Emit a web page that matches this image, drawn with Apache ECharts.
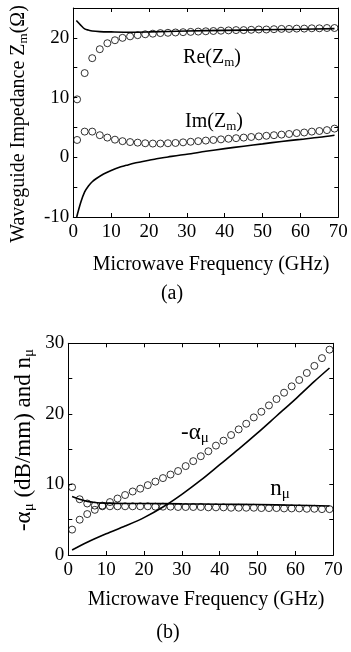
<!DOCTYPE html>
<html>
<head>
<meta charset="utf-8">
<script src="https://cdn.jsdelivr.net/npm/echarts@6/dist/echarts.min.js"></script>
<style>
  html, body { margin: 0; padding: 0; background: #fff; }
  #chart { width: 351px; height: 652px; }
</style>
</head>
<body>
<div id="chart"></div>
<script>
// measured points (circles), every 2 GHz
const circleFreq = [1, 3, 5, 7, 9, 11, 13, 15, 17, 19, 21, 23, 25, 27, 29, 31, 33, 35, 37, 39, 41, 43, 45, 47, 49, 51, 53, 55, 57, 59, 61, 63, 65, 67, 69]

// (a) waveguide impedance
const reMeasured = [9.7, 14.1, 16.6, 18.1, 19.1, 19.6, 20.0, 20.25, 20.45, 20.6, 20.7, 20.8, 20.85, 20.9, 20.95, 21.0, 21.05, 21.1, 21.15, 21.2, 21.25, 21.3, 21.3, 21.35, 21.4, 21.4, 21.45, 21.5, 21.5, 21.55, 21.55, 21.6, 21.6, 21.65, 21.65]
const imMeasured = [2.9, 4.3, 4.3, 3.7, 3.3, 2.95, 2.7, 2.55, 2.45, 2.35, 2.3, 2.3, 2.35, 2.4, 2.5, 2.6, 2.7, 2.8, 2.9, 3.0, 3.1, 3.2, 3.3, 3.4, 3.5, 3.6, 3.7, 3.8, 3.9, 4.05, 4.15, 4.3, 4.4, 4.55, 4.8]
const reLineFreq = [0.8, 2, 3, 4, 5, 7, 10, 15, 20, 30, 40, 50, 60, 69]
const reLineVals = [22.9, 22.1, 21.5, 21.3, 21.15, 21.05, 21.0, 20.95, 21.0, 21.15, 21.25, 21.35, 21.45, 21.55]
const imLineFreq = [0.9, 2, 3, 4, 5, 6, 8, 10, 12, 14, 16, 18, 20, 22, 25, 28, 30, 35, 40, 45, 50, 55, 60, 65, 69]
const imLineVals = [-10, -7.5, -5.8, -4.8, -4.1, -3.6, -2.8, -2.2, -1.7, -1.35, -1.0, -0.75, -0.5, -0.25, 0.05, 0.35, 0.5, 1.0, 1.45, 1.85, 2.25, 2.65, 3.0, 3.35, 3.7]

// (b) attenuation and index
const alphaMeasured = [3.6, 5.0, 5.8, 6.4, 7.0, 7.5, 8.0, 8.5, 9.0, 9.4, 9.9, 10.4, 10.9, 11.4, 11.9, 12.6, 13.3, 14.0, 14.7, 15.5, 16.2, 17.0, 17.8, 18.6, 19.5, 20.3, 21.2, 22.1, 23.0, 23.9, 24.8, 25.8, 26.8, 27.9, 29.1]
const nMeasured = [9.6, 7.9, 7.3, 7.0, 6.9, 6.9, 6.9, 6.9, 6.9, 6.9, 6.9, 6.85, 6.85, 6.85, 6.8, 6.8, 6.8, 6.8, 6.75, 6.75, 6.75, 6.7, 6.7, 6.7, 6.7, 6.65, 6.65, 6.65, 6.6, 6.6, 6.6, 6.55, 6.55, 6.5, 6.5]
const nLineFreq = [1, 3, 5, 7, 10, 15, 20, 30, 40, 50, 60, 69]
const nLineVals = [8.3, 7.9, 7.6, 7.45, 7.35, 7.3, 7.3, 7.25, 7.2, 7.15, 7.05, 6.95]
const alphaLineFreq = [1, 5, 10, 15, 20, 25, 30, 35, 40, 45, 50, 55, 60, 65, 69]
const alphaLineVals = [0.7, 1.8, 3.0, 4.1, 5.3, 6.8, 8.6, 10.6, 12.8, 15.0, 17.3, 19.7, 22.1, 24.6, 26.5]

const xTicks = [0, 10, 20, 30, 40, 50, 60, 70]

const FONT = 'Liberation Serif'
const zip = (xs, ys) => xs.map((x, i) => [x, ys[i]])

function xAxes(grid) {
  const base = {
    gridIndex: grid, type: 'value', min: xTicks[0], max: xTicks[xTicks.length - 1], interval: 10,
    axisLine: { show: true, onZero: false, lineStyle: { color: '#000', width: 1 } },
    axisTick: { inside: true, length: 4, lineStyle: { color: '#000' } },
    splitLine: { show: false },
  }
  return [
    { ...base, position: 'bottom',
      axisLabel: { color: '#000', fontFamily: FONT, fontSize: 19, margin: 6 } },
    { ...base, position: 'top', axisLabel: { show: false } },
  ]
}

function yAxes(grid, min, max) {
  const base = {
    gridIndex: grid, type: 'value', min, max, interval: 5,
    axisLine: { show: true, onZero: false, lineStyle: { color: '#000', width: 1 } },
    axisTick: { inside: true, length: 4, lineStyle: { color: '#000' } },
    splitLine: { show: false },
  }
  return [
    { ...base, position: 'left',
      axisLabel: { color: '#000', fontFamily: FONT, fontSize: 19, margin: 4,
        formatter: (v) => (v % 10 === 0 ? String(v) : '') } },
    { ...base, position: 'right', axisLabel: { show: false } },
  ]
}

function lineSeries(xi, yi, xs, ys) {
  return { type: 'line', xAxisIndex: xi, yAxisIndex: yi, data: zip(xs, ys),
    showSymbol: false, smooth: 0.3, lineStyle: { color: '#000', width: 1.6 }, z: 3 }
}

function circleSeries(xi, yi, ys) {
  return { type: 'scatter', xAxisIndex: xi, yAxisIndex: yi, data: zip(circleFreq, ys),
    symbol: 'circle', symbolSize: 7,
    itemStyle: { color: 'rgba(0,0,0,0)', borderColor: '#000', borderWidth: 1 }, z: 4 }
}

const main = { fontFamily: FONT, fontSize: 20, color: '#000' }
const sub = { fontFamily: FONT, fontSize: 13, color: '#000', padding: [9, 0, 0, 0] }
const rich = { a: main, s: sub }
const bigMain = { fontFamily: FONT, fontSize: 23, color: '#000' }
const bigSub = { fontFamily: FONT, fontSize: 15, color: '#000', padding: [10, 0, 0, 0] }
const richBig = { a: bigMain, s: bigSub }

function label(x, y, text, r) {
  return { type: 'text', x, y, style: { text, rich: r || rich, align: 'center', verticalAlign: 'middle' } }
}

const chart = echarts.init(document.getElementById('chart'), null, { renderer: 'canvas' })
chart.setOption({
  animation: false,
  backgroundColor: '#fff',
  grid: [
    { left: 73.3, right: 12.7, top: 8, bottom: 435 },
    { left: 68.3, right: 17.7, top: 343.3, bottom: 97 },
  ],
  xAxis: [...xAxes(0), ...xAxes(1)],
  yAxis: [...yAxes(0, -10, 25), ...yAxes(1, 0, 30)],
  series: [
    lineSeries(0, 0, reLineFreq, reLineVals),
    lineSeries(0, 0, imLineFreq, imLineVals),
    circleSeries(0, 0, reMeasured),
    circleSeries(0, 0, imMeasured),
    lineSeries(2, 2, nLineFreq, nLineVals),
    lineSeries(2, 2, alphaLineFreq, alphaLineVals),
    circleSeries(2, 2, alphaMeasured),
    circleSeries(2, 2, nMeasured),
  ],
  graphic: [
    label(212, 58, '{a|Re(Z}{s|m}{a|)}'),
    label(214, 122, '{a|Im(Z}{s|m}{a|)}'),
    label(211, 265, '{a|Microwave Frequency (GHz)}'),
    label(172, 294, '{a|(a)}'),
    { type: 'text', x: 19, y: 124, rotation: Math.PI / 2,
      style: { text: '{a|Waveguide Impedance Z}{s|m}{a|(Ω)}', rich, align: 'center', verticalAlign: 'middle' } },
    label(195, 433, '{a|-α}{s|μ}', richBig),
    label(280, 489, '{a|n}{s|μ}', richBig),
    label(206, 600, '{a|Microwave Frequency (GHz)}'),
    label(168, 633, '{a|(b)}'),
    { type: 'text', x: 24, y: 440, rotation: Math.PI / 2,
      style: { text: '{a|-α}{s|μ}{a| (dB/mm) and n}{s|μ}', rich: richBig, align: 'center', verticalAlign: 'middle' } },
  ],
})
</script>
</body>
</html>
